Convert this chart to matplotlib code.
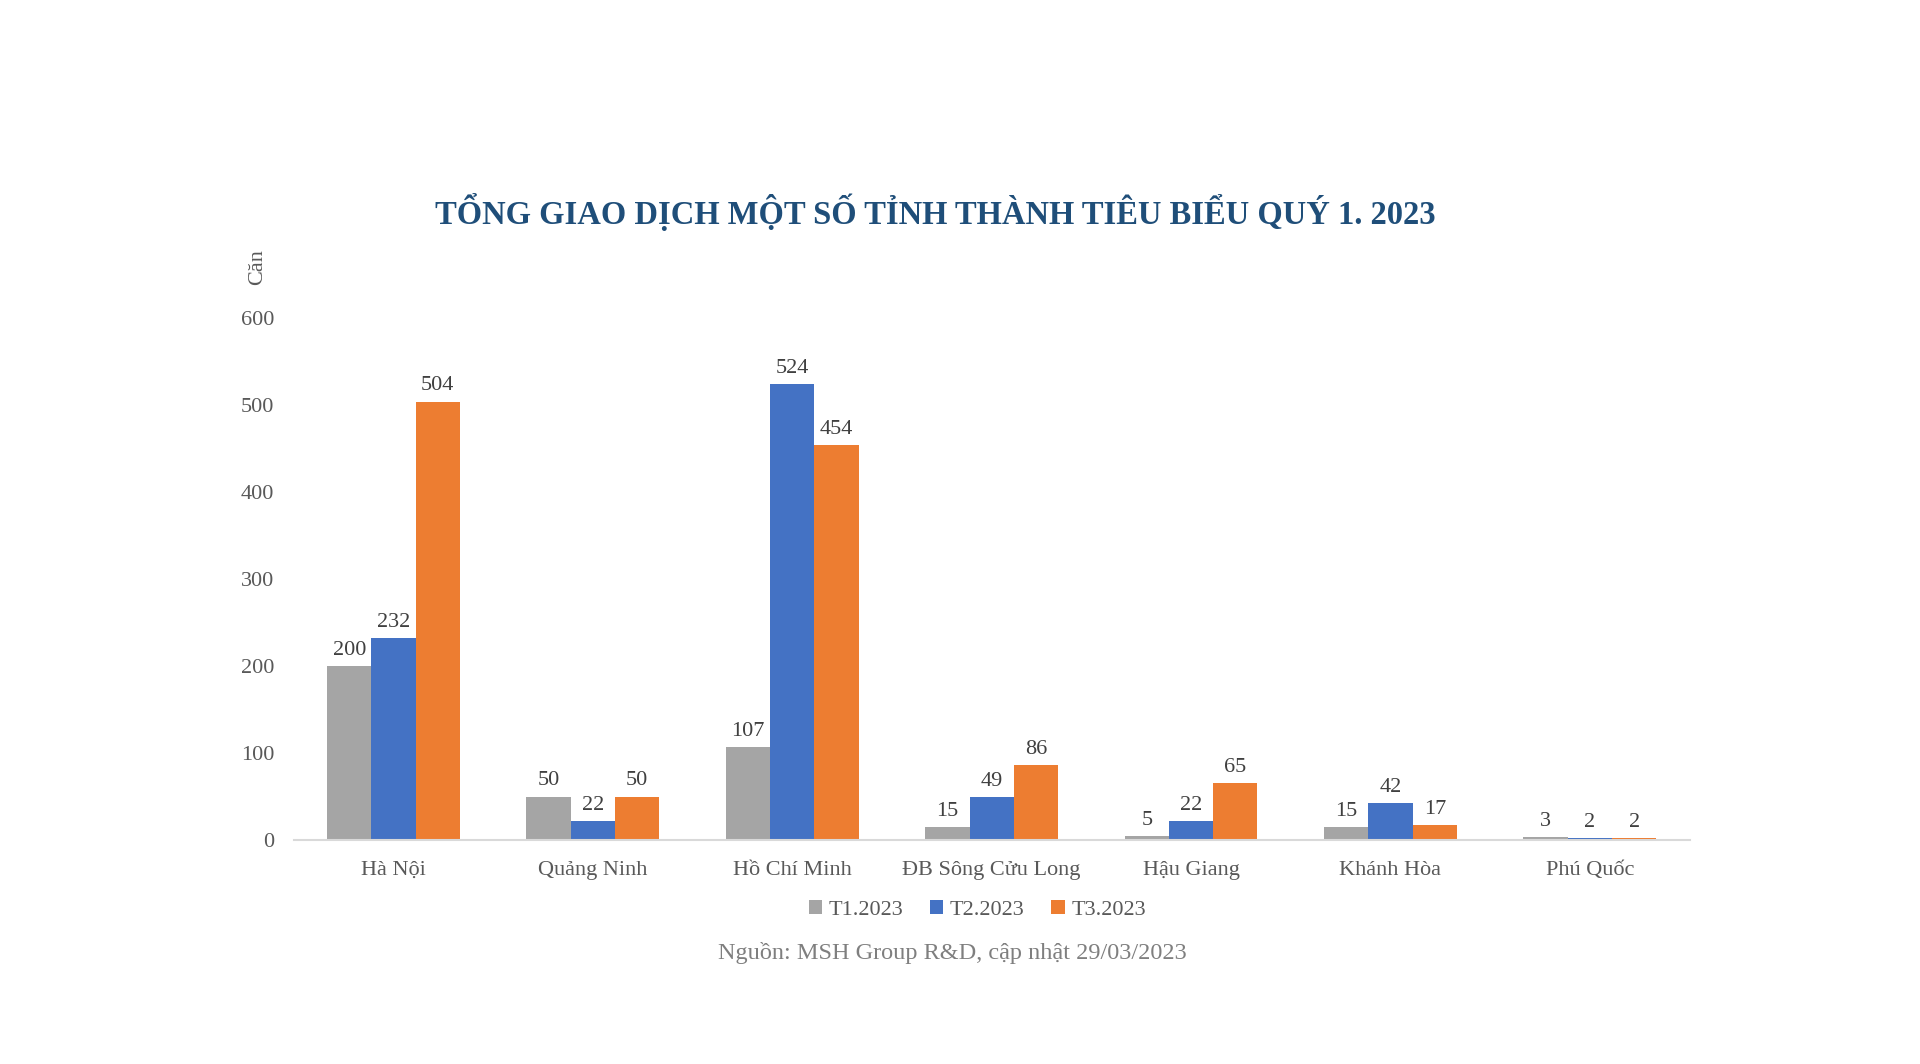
import matplotlib.pyplot as plt
import numpy as np

plt.rcParams['font.family'] = ['Liberation Serif', 'DejaVu Serif']

provinces = ["Hà Nội", "Quảng Ninh", "Hồ Chí Minh", "ĐB Sông Cửu Long",
             "Hậu Giang", "Khánh Hòa", "Phú Quốc"]
series_names = ["T1.2023", "T2.2023", "T3.2023"]
t1 = [200, 50, 107, 15, 5, 15, 3]
t2 = [232, 22, 524, 49, 22, 42, 2]
t3 = [504, 50, 454, 86, 65, 17, 2]
colors = ["#A5A5A5", "#4472C4", "#ED7D31"]

fig = plt.figure(figsize=(19.2, 10.64), dpi=100)
ax = fig.add_axes([0.153, 0.2105, 0.727, 0.4906])

x = np.arange(len(provinces))
w = 0.222
for i, (vals, name) in enumerate(zip([t1, t2, t3], series_names)):
    bars = ax.bar(x + (i - 1) * w, vals, w, color=colors[i], label=name)
    for b, v in zip(bars, vals):
        ax.text(b.get_x() + b.get_width() / 2, v + 7, str(v), ha='center',
                va='bottom', fontsize=16, color='#404040')

ax.set_xlim(-0.5, len(provinces) - 0.5)
ax.set_ylim(0, 600)
ax.set_yticks(range(0, 601, 100))
ax.set_xticks(x)
ax.set_xticklabels(provinces)
for s in ['top', 'right', 'left']:
    ax.spines[s].set_visible(False)
ax.spines['bottom'].set_color('#D9D9D9')
ax.spines['bottom'].set_linewidth(1.5)
ax.tick_params(axis='both', length=0, labelsize=16, colors='#595959')
ax.tick_params(axis='y', pad=14)
ax.tick_params(axis='x', pad=15)

fig.text(0.134, 0.749, "Căn", rotation=90, ha='center', va='center',
         fontsize=16, color='#595959')
fig.text(0.487, 0.801, "TỔNG GIAO DỊCH MỘT SỐ TỈNH THÀNH TIÊU BIỂU QUÝ 1. 2023",
         ha='center', va='center', fontsize=23.5, fontweight='bold', color='#1F4E79')

ax.legend(loc='center', frameon=False,
          ncol=3, fontsize=16, handlelength=0.6, handleheight=0.6,
          handletextpad=0.3, columnspacing=1.2, labelcolor='#595959')
leg = ax.get_legend()
leg.set_bbox_to_anchor((0.509, 0.145), transform=fig.transFigure)

fig.text(0.496, 0.104, "Nguồn: MSH Group R&D, cập nhật 29/03/2023",
         ha='center', va='center', fontsize=17.5, color='#7F7F7F')

fig.savefig("out.png", dpi=100, facecolor='white')
